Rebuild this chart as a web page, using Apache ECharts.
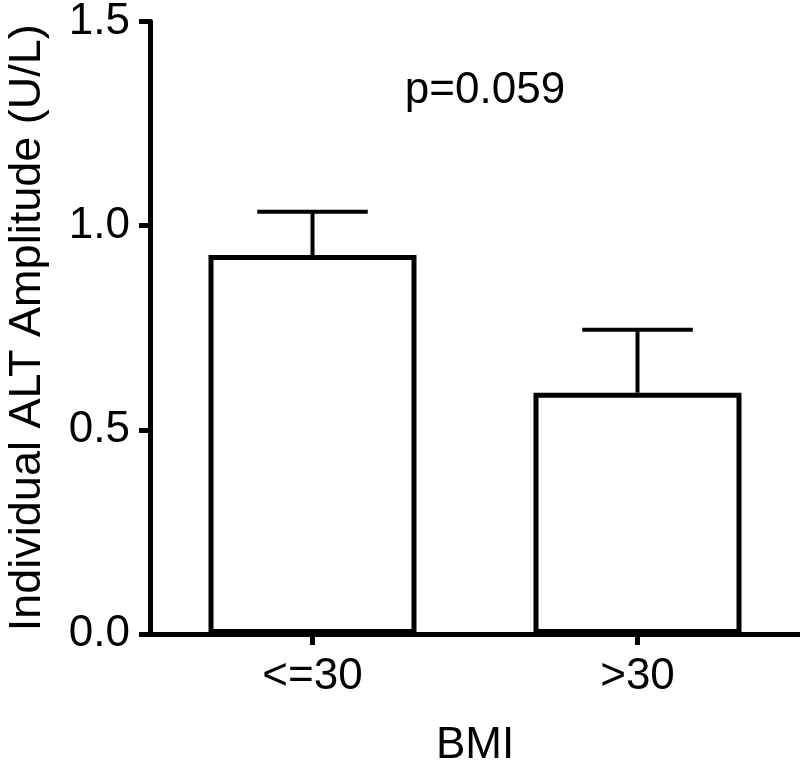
<!DOCTYPE html>
<html>
<head>
<meta charset="utf-8">
<script src="https://cdn.jsdelivr.net/npm/echarts@6/dist/echarts.min.js"></script>
<style>
html,body{margin:0;padding:0;background:#fff;}
#chart{width:800px;height:768px;}
</style>
</head>
<body>
<div id="chart"></div>
<script>
var categories = ['<=30', '>30'];
var means = [0.928, 0.591];
var sems = [0.106, 0.154];
var yTicks = [0, 0.5, 1.0, 1.5];
var yTitle = 'Individual ALT Amplitude (U/L)';
var xTitle = 'BMI';
var annotation = 'p=0.059';

var FONT = '"Liberation Sans", Arial, Helvetica, sans-serif';
var chart = echarts.init(document.getElementById('chart'), null, {renderer: 'canvas'});

var errData = categories.map(function (c, i) { return [i, means[i], means[i] + sems[i]]; });

var option = {
  animation: false,
  backgroundColor: '#ffffff',
  grid: {left: 150, right: 0, top: 21.5, bottom: 134, containLabel: false, outerBoundsMode: 'none'},
  xAxis: {
    type: 'category',
    data: categories,
    boundaryGap: true,
    name: xTitle,
    nameLocation: 'middle',
    nameGap: 90,
    nameTextStyle: {fontFamily: FONT, fontSize: 44, color: '#000'},
    axisLine: {show: true, lineStyle: {color: '#000', width: 5}},
    axisTick: {show: true, alignWithLabel: true, length: 11, lineStyle: {color: '#000', width: 5}},
    axisLabel: {fontFamily: FONT, fontSize: 44, color: '#000', margin: 21},
    splitLine: {show: false}
  },
  yAxis: {
    type: 'value',
    min: yTicks[0],
    max: yTicks[yTicks.length - 1],
    interval: 0.5,
    name: yTitle,
    nameLocation: 'middle',
    nameRotate: 90,
    nameGap: 100,
    nameTextStyle: {fontFamily: FONT, fontSize: 45, color: '#000'},
    axisLine: {show: true, lineStyle: {color: '#000', width: 5}},
    axisTick: {show: true, length: 11, lineStyle: {color: '#000', width: 5}},
    axisLabel: {
      fontFamily: FONT, fontSize: 44, color: '#000', margin: 20,
      formatter: function (v) { return v.toFixed(1); }
    },
    splitLine: {show: false}
  },
  graphic: [{
    type: 'text',
    x: 485, y: 91,
    style: {text: annotation, font: '44px ' + FONT, fill: '#000', align: 'center', verticalAlign: 'middle'}
  }],
  series: [
    {
      type: 'bar',
      data: means,
      barWidth: '64%',
      itemStyle: {color: '#ffffff', borderColor: '#000', borderWidth: 5},
      z: 2
    },
    {
      type: 'custom',
      data: errData,
      z: 1,
      renderItem: function (params, api) {
        var x = api.value(0);
        var lo = api.coord([x, api.value(1)]);
        var hi = api.coord([x, api.value(2)]);
        var cw = api.size([1, 0])[0] * 0.34;
        var st = {stroke: '#000', lineWidth: 4};
        return {
          type: 'group',
          children: [
            {type: 'line', shape: {x1: lo[0], y1: lo[1], x2: hi[0], y2: hi[1]}, style: st},
            {type: 'line', shape: {x1: hi[0] - cw / 2, y1: hi[1], x2: hi[0] + cw / 2, y2: hi[1]}, style: st}
          ]
        };
      }
    }
  ]
};
chart.setOption(option);
</script>
</body>
</html>
